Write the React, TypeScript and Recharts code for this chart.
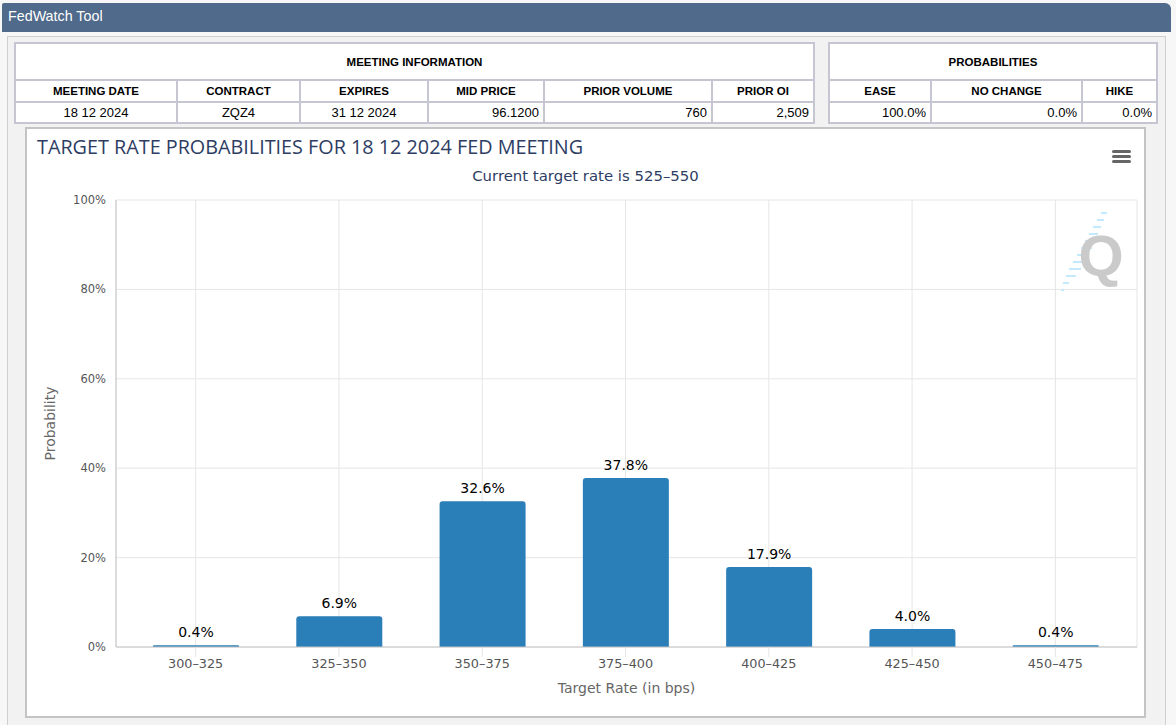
import React from 'react'
import { BarChart, Bar, XAxis, YAxis, CartesianGrid, LabelList, Label } from 'recharts'

const categories = ['300–325', '325–350', '350–375', '375–400', '400–425', '425–450', '450–475']
const probabilities = [0.4, 6.9, 32.6, 37.8, 17.9, 4.0, 0.4]
const yTicks = [0, 20, 40, 60, 80, 100]

const meetingHeaders = ['MEETING DATE', 'CONTRACT', 'EXPIRES', 'MID PRICE', 'PRIOR VOLUME', 'PRIOR OI']
const meetingValues = ['18 12 2024', 'ZQZ4', '31 12 2024', '96.1200', '760', '2,509']
const meetingAlign = ['center', 'center', 'center', 'right', 'right', 'right']
const meetingWidths = [162, 123, 128, 116, 168, 102]

const probHeaders = ['EASE', 'NO CHANGE', 'HIKE']
const probValues = ['100.0%', '0.0%', '0.0%']
const probWidths = [102, 151, 75]

const data = categories.map((c, i) => ({ rate: c, value: probabilities[i] }))

const cellBorder = '2px solid #c6c6d2'
const tableFont = '"Liberation Sans", Arial, sans-serif'
const chartFont = '"DejaVu Sans", sans-serif'

function InfoTable({
  left,
  title,
  headers,
  values,
  widths,
  align,
}: {
  left: number
  title: string
  headers: string[]
  values: string[]
  widths: number[]
  align: string[]
}) {
  return (
    <table
      style={{
        position: 'absolute',
        left,
        top: 42,
        borderCollapse: 'collapse',
        tableLayout: 'fixed',
        background: '#fff',
        fontFamily: tableFont,
        color: '#000',
      }}
    >
      <colgroup>
        {widths.map((w, i) => (
          <col key={i} style={{ width: w }} />
        ))}
      </colgroup>
      <tbody>
        <tr style={{ height: 37 }}>
          <td
            colSpan={headers.length}
            style={{ border: cellBorder, textAlign: 'center', fontWeight: 'bold', fontSize: 11.5, padding: 0 }}
          >
            {title}
          </td>
        </tr>
        <tr style={{ height: 22 }}>
          {headers.map((h) => (
            <td
              key={h}
              style={{ border: cellBorder, textAlign: 'center', fontWeight: 'bold', fontSize: 11.5, padding: 0 }}
            >
              {h}
            </td>
          ))}
        </tr>
        <tr style={{ height: 21 }}>
          {values.map((v, i) => (
            <td
              key={i}
              style={{ border: cellBorder, textAlign: align[i] as any, fontSize: 13, padding: '0 4px' }}
            >
              {v}
            </td>
          ))}
        </tr>
      </tbody>
    </table>
  )
}

function QLogo() {
  const dashes = [
    [1101, 213, 6], [1097, 220, 7], [1093, 227, 8], [1089, 234, 9], [1085, 241, 10], [1081, 248, 11],
    [1077, 255, 12], [1073, 262, 12], [1069, 269, 12], [1066, 276, 10], [1063, 283, 6], [1061, 290, 3],
  ]
  return (
    <svg style={{ position: 'absolute', left: 0, top: 0 }} width={1176} height={725} pointerEvents="none">
      {dashes.map(([x, y, w], i) => (
        <line key={i} x1={x} y1={y} x2={x + w} y2={y} stroke="#c4e9fc" strokeWidth={2} />
      ))}
      <text x={1101} y={276} textAnchor="middle" fontFamily='"Liberation Sans", Arial' fontWeight="bold" fontSize={58} fill="#cacaca">
        Q
      </text>
    </svg>
  )
}

export default function App() {
  return (
    <div style={{ position: 'absolute', left: 0, top: 0, width: 1176, height: 725, background: '#f7f7f7', overflow: 'hidden' }}>
      <div
        style={{
          position: 'absolute',
          left: 2,
          top: 3,
          width: 1169,
          height: 29,
          background: '#4f6a8a',
          borderTopRightRadius: 6,
          borderTopLeftRadius: 2,
          color: '#fff',
          fontFamily: tableFont,
          fontSize: 14.3,
          lineHeight: '27px',
          paddingLeft: 6,
          boxSizing: 'border-box',
        }}
      >
        FedWatch Tool
      </div>
      <div
        style={{
          position: 'absolute',
          left: 7,
          top: 36,
          width: 1159,
          height: 700,
          background: '#f2f2f2',
          border: '1px solid #cfcfcf',
          boxSizing: 'border-box',
        }}
      />
      <InfoTable
        left={14}
        title="MEETING INFORMATION"
        headers={meetingHeaders}
        values={meetingValues}
        widths={meetingWidths}
        align={meetingAlign}
      />
      <InfoTable
        left={828}
        title="PROBABILITIES"
        headers={probHeaders}
        values={probValues}
        widths={probWidths}
        align={['right', 'right', 'right']}
      />
      <div
        style={{
          position: 'absolute',
          left: 25,
          top: 127,
          width: 1121,
          height: 591,
          background: '#fff',
          boxShadow: 'inset 0 0 0 2px #c4c4c4',
        }}
      >
        <div
          style={{
            position: 'absolute',
            left: 12,
            top: 7,
            fontFamily: '"Open Sans", sans-serif',
            fontSize: 19.8,
            lineHeight: '26px',
            color: '#2e3d63',
            whiteSpace: 'nowrap',
          }}
        >
          TARGET RATE PROBABILITIES FOR 18 12 2024 FED MEETING
        </div>
        <div
          style={{
            position: 'absolute',
            left: 0,
            width: 1121,
            top: 39,
            textAlign: 'center',
            fontFamily: chartFont,
            fontSize: 14.9,
            lineHeight: '20px',
            color: '#2e3d63',
          }}
        >
          Current target rate is 525–550
        </div>
        <div style={{ position: 'absolute', left: 1087, top: 23 }}>
          {[0, 5, 10].map((t) => (
            <div
              key={t}
              style={{ position: 'absolute', top: t, left: 0, width: 19, height: 3, background: '#666', borderRadius: 1.5 }}
            />
          ))}
        </div>
        <BarChart
          width={1121}
          height={591}
          data={data}
          margin={{ top: 73, right: 9, left: 0, bottom: 0 }}
          style={{ position: 'absolute', left: 0, top: 0 }}
        >
          <CartesianGrid stroke="#e6e6e6" strokeWidth={1} />
          <XAxis
            dataKey="rate"
            height={71}
            padding={{ left: 8, right: 10 }}
            axisLine={{ stroke: '#c4c4c4' }}
            tickLine={{ stroke: '#e6e6e6' }}
            tickSize={10}
            tickMargin={2}
            tick={{ fill: '#555', fontSize: 12.8, fontFamily: chartFont }}
            interval={0}
          >
            <Label
              content={({ viewBox }: any) => (
                <text
                  x={viewBox.x + viewBox.width / 2}
                  y={viewBox.y + 46}
                  textAnchor="middle"
                  fill="#666"
                  fontSize={14}
                  fontFamily={chartFont}
                >
                  Target Rate (in bps)
                </text>
              )}
            />
          </XAxis>
          <YAxis
            width={91}
            domain={[0, 100]}
            ticks={yTicks}
            interval={0}
            axisLine={{ stroke: '#c4c4c4' }}
            tickLine={false}
            tickSize={8}
            tickMargin={2}
            tickFormatter={(v: number) => `${v}%`}
            tick={{ fill: '#555', fontSize: 11.5, fontFamily: chartFont }}
          >
            <Label
              content={({ viewBox }: any) => {
                const cx = viewBox.x + 25
                const cy = viewBox.y + viewBox.height / 2
                return (
                  <text
                    x={cx}
                    y={cy}
                    transform={`rotate(-90 ${cx} ${cy})`}
                    textAnchor="middle"
                    dominantBaseline="central"
                    fill="#666"
                    fontSize={14}
                    fontFamily={chartFont}
                  >
                    Probability
                  </text>
                )
              }}
            />
          </YAxis>
          <Bar dataKey="value" fill="#2b7fb8" barSize={86} radius={[3, 3, 0, 0]} isAnimationActive={false}>
            <LabelList
              dataKey="value"
              position="top"
              offset={8}
              formatter={(v: any) => `${Number(v).toFixed(1)}%`}
              fill="#000"
              fontSize={14}
              fontFamily={chartFont}
            />
          </Bar>
        </BarChart>
      </div>
      <QLogo />
    </div>
  )
}
